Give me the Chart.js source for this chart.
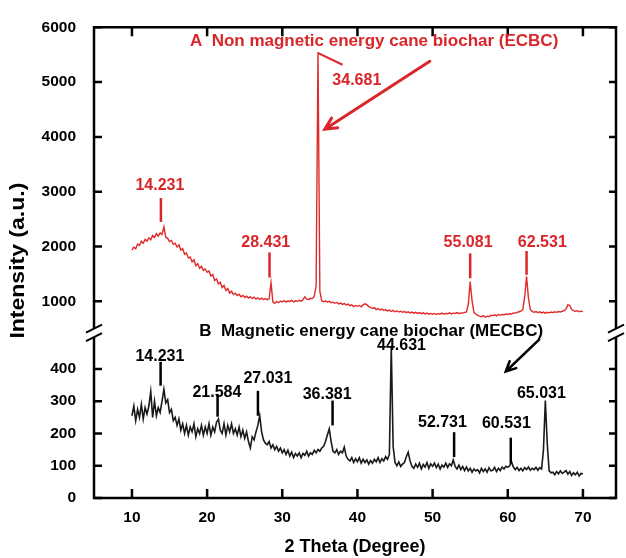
<!DOCTYPE html>
<html lang="en">
<head>
<meta charset="utf-8">
<script src="https://cdn.jsdelivr.net/npm/chart.js@4.4.1/dist/chart.umd.min.js"></script>
<style>
  html, body { margin: 0; padding: 0; background: #fff; }
</style>
</head>
<body>
<canvas id="xrd" width="626" height="558"></canvas>

<script>
"use strict";

// sampling of the scans: 10..70 degrees, every 0.25 degree
var startAngle = 10;
var stepAngle = 0.25;

// A - non magnetic energy cane biochar (ECBC)
var ecbc = [
  1935, 1990, 1960, 2045, 2020, 2095, 2060, 2130,
  2100, 2160, 2125, 2200, 2165, 2235, 2190, 2250,
  2220, 2360, 2170, 2150, 2090, 2110, 2040, 2060,
  1990, 2030, 1935, 1960, 1860, 1880, 1790, 1810,
  1720, 1760, 1650, 1690, 1600, 1640, 1565, 1590,
  1530, 1555, 1460, 1490, 1380, 1410, 1320, 1350,
  1250, 1290, 1200, 1235, 1150, 1185, 1125, 1150,
  1105, 1130, 1085, 1110, 1070, 1095, 1060, 1085,
  1050, 1075, 1040, 1065, 1035, 1060, 1030, 1050,
  1030, 1045, 1340, 985, 965, 1000, 975, 1005,
  990, 1015, 985, 1010, 995, 1020, 990, 1010,
  1000, 1020, 1005, 1030, 1085, 1040, 1035, 1055,
  1050, 1090, 1280, 5550, 1180, 1010, 995, 1005,
  990, 1000, 975, 985, 965, 980, 955, 970,
  945, 960, 935, 950, 920, 935, 905, 925,
  910, 925, 900, 935, 955, 940, 905, 890,
  870, 885, 850, 870, 845, 860, 835, 850,
  825, 840, 815, 835, 810, 825, 805, 820,
  800, 815, 795, 810, 790, 805, 785, 800,
  780, 795, 775, 790, 770, 785, 765, 780,
  765, 780, 760, 775, 770, 785, 765, 780,
  775, 790, 770, 785, 780, 795, 775, 790,
  785, 800, 805, 950, 1360, 1010, 800, 770,
  745, 730, 720, 740, 710, 730, 720, 745,
  740, 755, 735, 760, 745, 765, 750, 770,
  760, 775, 770, 790, 785, 800, 810, 820,
  850, 1080, 1455, 1060, 850, 815, 800, 815,
  795, 810, 790, 805, 785, 800, 790, 805,
  795, 810, 800, 815, 805, 820, 830, 860,
  940, 925, 850, 835, 815, 830, 810, 825,
  810
];

// B - magnetic energy cane biochar (MECBC)
var mecbc = [
  255, 285, 240, 275, 250, 290, 245, 280,
  260, 285, 330, 250, 300, 255, 280, 265,
  300, 337, 295, 305, 265, 275, 240, 250,
  225, 245, 210, 230, 200, 225, 195, 220,
  205, 230, 190, 215, 200, 225, 195, 220,
  200, 230, 195, 220, 205, 235, 245, 210,
  200, 230, 195, 225, 205, 230, 200, 215,
  195, 220, 190, 210, 185, 205, 175, 155,
  190, 180, 205, 225, 255, 205, 180, 170,
  165, 175, 155, 165, 150, 160, 145, 155,
  140, 150, 135, 148, 130, 142, 125, 138,
  130, 140, 125, 138, 132, 145, 130, 140,
  135, 148, 140, 150, 145, 155, 160, 175,
  195, 214, 175, 145, 140, 150, 135, 145,
  140, 158, 130, 120, 115, 125, 110, 122,
  112, 125, 108, 120, 110, 118, 105, 116,
  108, 120, 112, 125, 110, 122, 115, 128,
  120, 135, 470, 160, 110, 100, 112, 98,
  105, 110, 128, 142, 115, 98, 92, 105,
  95, 108, 90, 104, 96, 110, 92, 106,
  98, 108, 94, 105, 90, 102, 96, 108,
  95, 106, 100, 118, 98, 90, 102, 88,
  98, 85, 96, 84, 92, 80, 90, 84,
  88, 78, 92, 82, 90, 80, 94, 84,
  86, 95, 82, 92, 85, 96, 90, 98,
  95, 100, 112, 96, 88, 95, 85, 92,
  84, 94, 88, 96, 86, 92, 88, 95,
  86, 94, 90, 150, 302, 170, 85, 78,
  80, 72, 82, 75, 84, 76, 80, 85,
  74, 82, 70, 78, 72, 80, 68, 76,
  75
];

var xTicks = [10, 20, 30, 40, 50, 60, 70];
var topTicks = [1000, 2000, 3000, 4000, 5000, 6000];
var bottomTicks = [0, 100, 200, 300, 400];

var ecbcPeaks = ['14.231', '28.431', '34.681', '55.081', '62.531'];
var mecbcPeaks = ['14.231', '21.584', '27.031', '36.381', '44.631', '52.731', '60.531', '65.031'];

var RED = '#d9262b';
var FONT = '"Liberation Sans", Arial, sans-serif';

function toPoints(values) {
  return values.map(function(v, i) { return {x: startAngle + i * stepAngle, y: v}; });
}

// where the labels sit (angle, intensity); m = the little marker line above a peak
var ecbcNotes = [
  {tx: 13.72, ty: 3120, mx: 13.85, m1: 2884, m2: 2449},
  {tx: 27.8,  ty: 2081, mx: 28.3,  m1: 1893, m2: 1435},
  {tx: 39.92, ty: 5022},
  {tx: 54.72, ty: 2081, mx: 55.0,  m1: 1875, m2: 1422},
  {tx: 64.6,  ty: 2081, mx: 62.5,  m1: 1918, m2: 1484}
];
var mecbcNotes = [
  {tx: 13.72, ty: 439, mx: 13.81, m1: 422, m2: 348},
  {tx: 21.3,  ty: 327, mx: 21.39, m1: 322, m2: 252},
  {tx: 28.09, ty: 371, mx: 26.76, m1: 332, m2: 255},
  {tx: 35.97, ty: 320, mx: 36.69, m1: 302, m2: 225},
  {tx: 45.86, ty: 471},
  {tx: 51.31, ty: 235, mx: 52.86, m1: 204, m2: 127},
  {tx: 59.82, ty: 230, mx: 60.4,  m1: 187, m2: 107},
  {tx: 64.48, ty: 324}
];

function arrow(ctx, x1, y1, x2, y2, head, width, color) {
  var ang = Math.atan2(y2 - y1, x2 - x1);
  ctx.strokeStyle = color;
  ctx.lineWidth = width;
  ctx.lineCap = 'round';
  ctx.beginPath();
  ctx.moveTo(x1, y1);
  ctx.lineTo(x2, y2);
  ctx.moveTo(x2 - head * Math.cos(ang - 0.45), y2 - head * Math.sin(ang - 0.45));
  ctx.lineTo(x2, y2);
  ctx.lineTo(x2 - head * Math.cos(ang + 0.45), y2 - head * Math.sin(ang + 0.45));
  ctx.stroke();
}

var framePlugin = {
  id: 'frame',
  afterDraw: function(chart) {
    var ctx = chart.ctx, a = chart.chartArea;
    var x = chart.scales.x, yt = chart.scales.yTop, yb = chart.scales.yBot;
    var cut = yt.bottom;
    ctx.save();

    // box with the axis break
    ctx.strokeStyle = '#000';
    ctx.lineWidth = 2.5;
    ctx.lineJoin = 'miter';
    ctx.beginPath();
    ctx.moveTo(a.left, cut - 4); ctx.lineTo(a.left, a.top);
    ctx.lineTo(a.right, a.top); ctx.lineTo(a.right, cut - 4);
    ctx.moveTo(a.left, cut + 5); ctx.lineTo(a.left, a.bottom);
    ctx.lineTo(a.right, a.bottom); ctx.lineTo(a.right, cut + 5);
    ctx.stroke();

    ctx.lineWidth = 2;
    ctx.beginPath();
    [a.left, a.right].forEach(function(px) {
      ctx.moveTo(px - 8, cut + 0.5); ctx.lineTo(px + 8, cut - 7.5);
      ctx.moveTo(px - 8, cut + 9);   ctx.lineTo(px + 8, cut + 1);
    });
    ctx.stroke();

    // inward tick marks on all four sides
    ctx.lineWidth = 2.5;
    ctx.beginPath();
    xTicks.forEach(function(v) {
      var px = x.getPixelForValue(v);
      ctx.moveTo(px, a.top); ctx.lineTo(px, a.top + 9);
      ctx.moveTo(px, a.bottom); ctx.lineTo(px, a.bottom - 9);
    });
    topTicks.forEach(function(v) {
      var py = yt.getPixelForValue(v);
      ctx.moveTo(a.left, py); ctx.lineTo(a.left + 8, py);
      ctx.moveTo(a.right, py); ctx.lineTo(a.right - 7, py);
    });
    bottomTicks.forEach(function(v) {
      var py = yb.getPixelForValue(v);
      ctx.moveTo(a.left, py); ctx.lineTo(a.left + 8, py);
      ctx.moveTo(a.right, py); ctx.lineTo(a.right - 7, py);
    });
    ctx.stroke();

    // y title (drawn here because it spans both stacked scales)
    ctx.save();
    ctx.translate(18.5, (a.top + a.bottom) / 2 - 2);
    ctx.rotate(-Math.PI / 2);
    ctx.scale(1.15, 1);
    ctx.fillStyle = '#000';
    ctx.font = 'bold 20px ' + FONT;
    ctx.textAlign = 'center';
    ctx.textBaseline = 'middle';
    ctx.fillText('Intensity (a.u.)', 0, 0);
    ctx.restore();

    // peak labels
    ctx.textAlign = 'center';
    ctx.textBaseline = 'middle';
    ctx.font = 'bold 16px ' + FONT;
    ctx.lineCap = 'butt';
    ctx.lineWidth = 2.5;
    ecbcNotes.forEach(function(n, i) {
      ctx.fillStyle = RED; ctx.strokeStyle = RED;
      ctx.fillText(ecbcPeaks[i], x.getPixelForValue(n.tx), yt.getPixelForValue(n.ty));
      if (n.mx !== undefined) {
        var px = x.getPixelForValue(n.mx);
        ctx.beginPath();
        ctx.moveTo(px, yt.getPixelForValue(n.m1));
        ctx.lineTo(px, yt.getPixelForValue(n.m2));
        ctx.stroke();
      }
    });
    mecbcNotes.forEach(function(n, i) {
      ctx.fillStyle = '#000'; ctx.strokeStyle = '#000';
      ctx.fillText(mecbcPeaks[i], x.getPixelForValue(n.tx), yb.getPixelForValue(n.ty));
      if (n.mx !== undefined) {
        var px = x.getPixelForValue(n.mx);
        ctx.beginPath();
        ctx.moveTo(px, yb.getPixelForValue(n.m1));
        ctx.lineTo(px, yb.getPixelForValue(n.m2));
        ctx.stroke();
      }
    });

    // sample names
    ctx.textAlign = 'left';
    ctx.font = 'bold 17px ' + FONT;
    ctx.fillStyle = RED;
    ctx.fillText('A  Non magnetic energy cane biochar (ECBC)', x.getPixelForValue(17.71), yt.getPixelForValue(5741));
    ctx.fillStyle = '#000';
    ctx.fillText('B  Magnetic energy cane biochar (MECBC)', x.getPixelForValue(18.95), yb.getPixelForValue(517));

    // leader + arrows
    ctx.strokeStyle = RED;
    ctx.lineWidth = 2;
    ctx.beginPath();
    ctx.moveTo(x.getPixelForValue(34.78), yt.getPixelForValue(5529));
    ctx.lineTo(x.getPixelForValue(38.02), yt.getPixelForValue(5317));
    ctx.stroke();
    arrow(ctx, x.getPixelForValue(49.63), yt.getPixelForValue(5379),
               x.getPixelForValue(35.66), yt.getPixelForValue(4140), 13, 3, RED);
    arrow(ctx, x.getPixelForValue(64.17), yb.getPixelForValue(491),
               x.getPixelForValue(59.73), yb.getPixelForValue(392), 11, 2.5, '#000');

    ctx.restore();
  }
};

var tickFont = {family: FONT, size: 15.5, weight: 'bold'};

new Chart(document.getElementById('xrd'), {
  type: 'line',
  data: {
    datasets: [{
      label: 'ECBC',
      data: toPoints(ecbc),
      yAxisID: 'yTop',
      borderColor: '#e02a2a',
      borderWidth: 1.4,
      pointRadius: 0,
      tension: 0
    }, {
      label: 'MECBC',
      data: toPoints(mecbc),
      yAxisID: 'yBot',
      borderColor: '#1a1a1a',
      borderWidth: 1.6,
      pointRadius: 0,
      tension: 0
    }]
  },
  options: {
    responsive: false,
    animation: false,
    events: [],
    layout: {padding: {top: 24, right: 10, bottom: 0, left: 0}},
    plugins: {legend: {display: false}, tooltip: {enabled: false}},
    scales: {
      x: {
        type: 'linear', min: 4.95, max: 74.4,
        grid: {display: false, drawTicks: false},
        border: {display: false},
        ticks: {font: tickFont, color: '#000', padding: 10, callback: function(v) { return String(v); }},
        afterBuildTicks: function(s) { s.ticks = xTicks.map(function(v) { return {value: v}; }); },
        title: {display: true, text: '2 Theta (Degree)', color: '#000', padding: 0,
                font: {family: FONT, size: 18, weight: 'bold'}},
        afterFit: function(s) { s.height = 60; }
      },
      yTop: {
        type: 'linear', position: 'left', stack: 'xrd', stackWeight: 307, weight: 2,
        min: 438, max: 6000,
        grid: {display: false, drawTicks: false},
        border: {display: false},
        ticks: {font: tickFont, color: '#000', padding: 18, callback: function(v) { return String(v); }},
        afterBuildTicks: function(s) { s.ticks = topTicks.map(function(v) { return {value: v}; }); },
        afterFit: function(s) { s.width = 94; }
      },
      yBot: {
        type: 'linear', position: 'left', stack: 'xrd', stackWeight: 167, weight: 1,
        min: 0, max: 514,
        grid: {display: false, drawTicks: false},
        border: {display: false},
        ticks: {font: tickFont, color: '#000', padding: 18, callback: function(v) { return String(v); }},
        afterBuildTicks: function(s) { s.ticks = bottomTicks.map(function(v) { return {value: v}; }); },
        afterFit: function(s) { s.width = 94; }
      }
    }
  },
  plugins: [framePlugin]
});
</script>
</body>
</html>
